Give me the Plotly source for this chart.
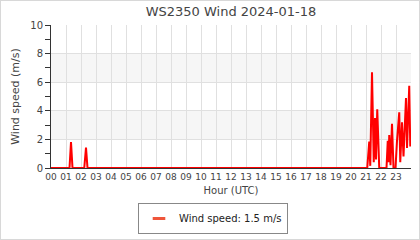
import plotly.graph_objects as go

# ---- data ----
TIMES = ["00:00", "01:14", "01:20", "01:26", "02:13", "02:20", "02:26",
         "21:05", "21:13", "21:17", "21:24", "21:31", "21:36", "21:40", "21:45", "21:53",
         "22:22", "22:27", "22:30", "22:33", "22:38", "22:44", "22:50",
         "22:58", "23:04", "23:13", "23:17", "23:24", "23:30", "23:40", "23:44", "23:53", "23:57"]
SPEED = [0.0, 0.0, 1.82, 0.0, 0.0, 1.43, 0.0,
         0.0, 1.85, 0.15, 6.7, 0.4, 3.5, 0.6, 4.1, 0.0,
         0.0, 1.9, 0.4, 2.3, 0.2, 3.1, 0.0,
         0.0, 1.9, 3.9, 0.4, 3.2, 0.8, 4.9, 1.4, 5.75, 1.5]
HOUR_TICKS = list(range(24))
HOUR_LABELS = [f"{h:02d}" for h in HOUR_TICKS]
BANDS = [(2, 4), (6, 8)]
TITLE = "WS2350 Wind 2024-01-18"
LEGEND_NAME = "Wind speed: 1.5 m/s"

hours = [int(t[:2]) + int(t[3:]) / 60 for t in TIMES]

W, H = 420, 240
L, R, T, B = 51, 9, 25, 72
PW, PH = W - L - R, H - T - B
FONT = "DejaVu Sans"

fig = go.Figure()
fig.add_trace(go.Scatter(x=hours, y=SPEED, mode="lines",
                         line=dict(color="#ff0000", width=2),
                         showlegend=False, hoverinfo="skip"))
# legend entry (short line sample)
fig.add_trace(go.Scatter(x=[None], y=[None], mode="markers", name=LEGEND_NAME,
                         marker=dict(symbol="line-ew-open", size=9,
                                     line=dict(color="#ff0000", width=3))))

shapes = []
for y0, y1 in BANDS:
    shapes.append(dict(type="rect", xref="paper", yref="y", x0=0, x1=1, y0=y0, y1=y1,
                       fillcolor="#f6f6f6", line=dict(width=0), layer="below"))
# outer frame
shapes.append(dict(type="rect", xref="paper", yref="paper",
                   x0=-L / PW, x1=1 + R / PW, y0=-B / PH, y1=1 + T / PH,
                   line=dict(color="#d8d8d8", width=2), layer="above"))

fig.update_layout(
    width=W, height=H,
    margin=dict(l=L, r=R, t=T, b=B, pad=0, autoexpand=False),
    paper_bgcolor="white", plot_bgcolor="white",
    font=dict(family=FONT, size=10, color="#444"),
    title=dict(text=TITLE, x=0.5, xref="paper", xanchor="center",
               y=1 - 11 / H, yref="container", yanchor="middle",
               font=dict(family=FONT, size=13, color="#444")),
    shapes=shapes,
    showlegend=True,
    legend=dict(x=(213 - L) / PW, xanchor="center", y=-(203 - T - PH) / PH, yanchor="top",
                bordercolor="#888", borderwidth=1, bgcolor="white",
                font=dict(family=FONT, size=10, color="#222"),
                tracegroupgap=0),
    xaxis=dict(range=[0, 24], tickmode="array", tickvals=HOUR_TICKS, ticktext=HOUR_LABELS,
               showgrid=True, gridcolor="#e0e0e0", gridwidth=1,
               showline=True, linecolor="#333", linewidth=1,
               ticks="", tickfont=dict(size=9, color="#444"), automargin=False,
               zeroline=False, fixedrange=True,
               title=dict(text="Hour (UTC)", standoff=6, font=dict(size=10, color="#444"))),
    yaxis=dict(range=[0, 10], dtick=2, tick0=0,
               showgrid=True, gridcolor="#e0e0e0", gridwidth=1,
               showline=True, linecolor="#333", linewidth=1,
               ticks="outside", ticklen=5, tickcolor="#333", automargin=False,
               minor=dict(dtick=1, ticks="outside", ticklen=5, tickcolor="#333", showgrid=False),
               tickfont=dict(size=10, color="#444"),
               zeroline=False, fixedrange=True,
               title=dict(text="Wind speed (m/s)", standoff=8, font=dict(size=11, color="#444"))),
)
fig.write_html("out.html", config={"displayModeBar": False})
